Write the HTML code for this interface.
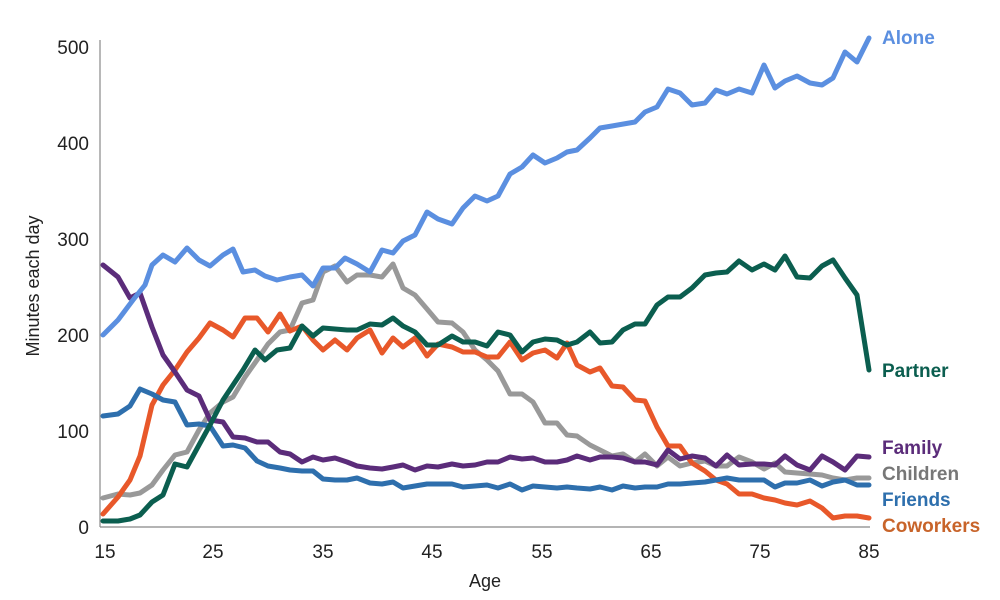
<!DOCTYPE html>
<html><head><meta charset="utf-8"><style>
body{margin:0;background:#fff;}
svg{display:block;font-family:"Liberation Sans",sans-serif;}
</style></head><body>
<svg width="1000" height="600" viewBox="0 0 1000 600">
<g stroke="#888" stroke-width="1.2" fill="none">
<line x1="100" y1="40" x2="100" y2="527"/>
<line x1="100" y1="527" x2="870" y2="527"/>
</g>
<g font-size="19" fill="#222" text-anchor="end">
<text x="89" y="534">0</text><text x="89" y="438">100</text><text x="89" y="342">200</text><text x="89" y="246">300</text><text x="89" y="150">400</text><text x="89" y="54">500</text>
</g>
<g font-size="19" fill="#222" text-anchor="middle">
<text x="105" y="558">15</text><text x="213" y="558">25</text><text x="323" y="558">35</text><text x="432" y="558">45</text><text x="542" y="558">55</text><text x="651" y="558">65</text><text x="760" y="558">75</text><text x="869" y="558">85</text>
<text x="485" y="587" font-size="18">Age</text>
<text transform="translate(39,286) rotate(-90)" font-size="18">Minutes each day</text>
</g>
<g fill="none" stroke-width="5" stroke-linejoin="round" stroke-linecap="round">
<polyline stroke="#999999" points="103,498 118,494 130,495 140,493 152,485 163,470 175,455 187,452 199,430 210,413 223,402 233,397 245,377 257,360 268,344 280,332 290,330 302,303 313,300 323,272 335,266 347,282 357,275 370,275 382,277 393,264 403,288 415,295 427,309 438,322 452,323 463,332 475,350 487,360 498,371 510,394 522,394 533,402 545,423 557,423 567,435 577,436 590,445 600,450 612,456 623,454 635,462 645,454 657,466 668,457 680,466 692,463 705,461 716,466 727,466 739,457 752,462 764,469 775,463 785,472 797,473 810,474 822,475 833,478 845,480 857,478 869,478"/>
<polyline stroke="#e8582a" points="103,514 118,497 130,480 140,456 152,405 163,385 175,370 187,352 199,338 210,323 223,330 233,337 245,318 257,318 268,332 280,314 290,331 302,326 313,340 323,350 335,340 347,350 357,338 370,330 382,353 393,338 403,347 415,338 427,356 438,344 452,347 463,352 475,352 487,357 498,357 510,342 522,360 533,353 545,350 557,358 567,343 577,365 590,372 600,368 612,386 623,387 635,400 645,401 657,427 668,446 680,446 692,463 705,471 716,480 727,484 739,494 752,494 764,498 775,500 785,503 797,505 810,501 822,508 833,518 845,516 857,516 869,518"/>
<polyline stroke="#2e6fad" points="103,416 118,414 130,406 140,389 152,394 163,400 175,402 187,425 199,424 210,426 223,446 233,445 245,448 257,461 268,466 280,468 290,470 302,471 313,471 323,479 335,480 347,480 357,478 370,483 382,484 393,482 403,488 415,486 427,484 438,484 452,484 463,487 475,486 487,485 498,488 510,484 522,490 533,486 545,487 557,488 567,487 577,488 590,489 600,487 612,490 623,486 635,488 645,487 657,487 668,484 680,484 692,483 705,482 716,480 727,478 739,480 752,480 764,480 775,487 785,483 797,483 810,480 822,486 833,482 845,480 857,485 869,485"/>
<polyline stroke="#5b2c7a" points="103,265 118,277 130,298 140,293 152,327 163,355 175,372 187,390 199,396 210,420 223,422 233,437 245,438 257,442 268,442 280,452 290,454 302,462 313,457 323,460 335,458 347,462 357,466 370,468 382,469 393,467 403,465 415,470 427,466 438,467 452,464 463,466 475,465 487,462 498,462 510,457 522,459 533,458 545,462 557,462 567,460 577,456 590,460 600,457 612,457 623,458 635,462 645,462 657,465 668,450 680,459 692,456 705,458 716,466 727,455 739,465 752,464 764,464 775,465 785,456 797,465 810,470 822,456 833,462 845,470 857,456 869,457"/>
<polyline stroke="#0b5e4f" points="103,521 118,521 130,519 140,515 152,502 163,495 175,464 187,467 199,445 210,425 223,400 233,385 243,370 255,350 265,360 277,350 290,348 302,326 313,336 323,328 335,329 347,330 357,330 370,324 382,325 393,318 403,326 415,332 427,345 438,345 452,336 463,342 475,342 487,346 498,332 510,335 522,352 533,342 545,339 557,340 567,345 577,342 590,332 600,343 612,342 623,330 635,324 645,324 657,305 668,297 680,297 692,288 705,275 716,273 727,272 739,261 752,270 764,264 775,270 785,256 797,277 810,278 822,266 833,260 845,278 857,295 869,370"/>
<polyline stroke="#5b8fe0" points="103,335 118,320 133,300 145,285 152,265 163,255 175,262 187,248 199,260 210,266 223,255 233,249 243,272 255,270 265,276 277,280 290,277 302,275 313,286 323,268 335,268 345,258 357,264 370,272 382,250 393,253 403,241 415,235 427,212 438,219 452,224 463,208 475,196 487,201 498,196 510,174 522,167 533,155 545,163 557,158 567,152 577,150 590,138 600,128 612,126 635,122 645,112 657,107 668,89 680,93 692,105 705,103 716,90 727,94 739,89 752,93 764,65 775,88 785,81 797,76 810,83 822,85 833,78 845,52 857,62 869,38"/>
</g>
<g font-size="19" font-weight="bold">
<text x="882" y="44" fill="#5b8fe0">Alone</text>
<text x="882" y="377" fill="#0b5e4f">Partner</text>
<text x="882" y="454" fill="#5b2c7a">Family</text>
<text x="882" y="480" fill="#777777">Children</text>
<text x="882" y="506" fill="#2e6fad">Friends</text>
<text x="882" y="532" fill="#c8642a">Coworkers</text>
</g>
</svg>
</body></html>
